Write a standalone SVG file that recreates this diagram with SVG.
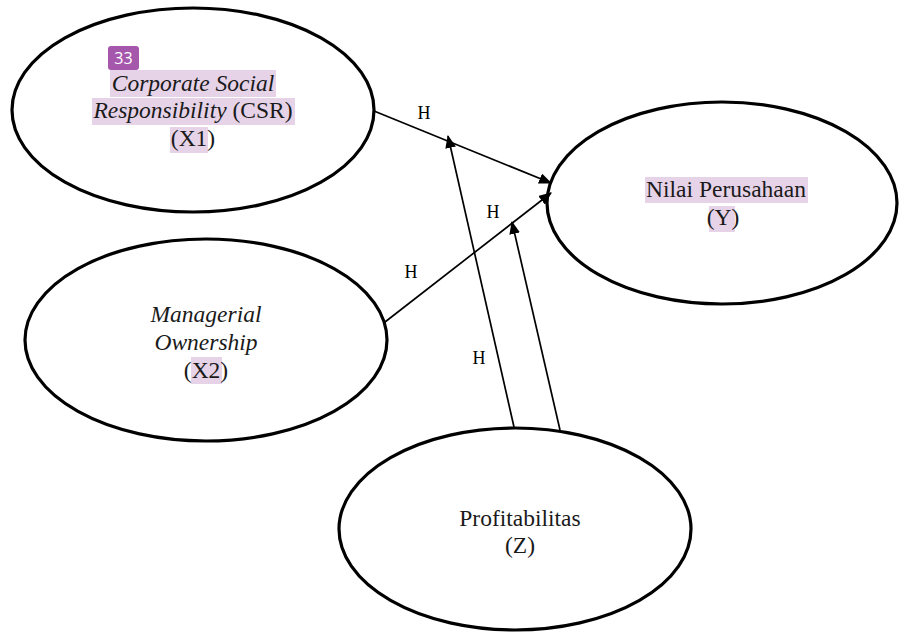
<svg xmlns="http://www.w3.org/2000/svg" width="901" height="635" viewBox="0 0 901 635">
<style>
.node{fill:#fff;stroke:#000;stroke-width:3.2}
.t{font-family:'Liberation Serif','Times New Roman','DejaVu Serif',serif;font-size:23.5px;fill:#1a1a1a;text-anchor:middle}
.i{font-style:italic}
.h{font-family:'Liberation Serif','Times New Roman','DejaVu Serif',serif;font-size:18px;fill:#000;text-anchor:middle}
.hl{fill:#e6d3e8}
.edge{stroke:#000;stroke-width:1.7;fill:none;marker-end:url(#arr)}
</style>
<defs>
<marker id="arr" viewBox="0 0 12 10" refX="11" refY="5" markerWidth="13" markerHeight="11" markerUnits="userSpaceOnUse" orient="auto">
<path d="M0,0 L12,5 L0,10 z" fill="#000"/>
</marker>
</defs>
<rect width="901" height="635" fill="#fff"/>
<g id="x1">
<ellipse class="node" cx="193" cy="110" rx="181" ry="102"/>
<rect class="hl" x="110" y="70" width="166" height="27"/>
<rect class="hl" x="92" y="98" width="203" height="27"/>
<rect class="hl" x="170" y="127" width="38" height="26"/>
<rect x="108" y="46" width="31" height="24" rx="3" fill="#a557ac"/>
<text x="123.5" y="64" font-family="'Open Sans','Noto Sans',sans-serif" font-size="16" fill="#fff" text-anchor="middle">33</text>
<text class="t i" x="193" y="91">Corporate Social</text>
<text class="t" x="193" y="118"><tspan class="i">Responsibility</tspan> (CSR)</text>
<text class="t" x="193" y="146">(X1)</text>
</g>
<g id="y">
<ellipse class="node" cx="722" cy="203" rx="175" ry="101"/>
<rect class="hl" x="645" y="177" width="163" height="26"/>
<rect class="hl" x="709" y="206" width="26" height="26"/>
<text class="t" x="726" y="197">Nilai Perusahaan</text>
<text class="t" x="723" y="225">(Y)</text>
</g>
<g id="x2">
<ellipse class="node" cx="206" cy="340" rx="181" ry="101"/>
<rect class="hl" x="191" y="357" width="31" height="27"/>
<text class="t i" x="206" y="322">Managerial</text>
<text class="t i" x="206" y="350">Ownership</text>
<text class="t" x="206" y="378">(X2)</text>
</g>
<g id="z">
<ellipse class="node" cx="515" cy="529" rx="176" ry="101"/>
<text class="t" x="520" y="526">Profitabilitas</text>
<text class="t" x="520" y="553">(Z)</text>
</g>
<g id="connectors">
<line class="edge" x1="374" y1="111" x2="551" y2="183"/>
<line class="edge" x1="385" y1="322" x2="551" y2="193"/>
<line class="edge" x1="514" y1="427" x2="448" y2="136"/>
<line class="edge" x1="560" y1="430" x2="512" y2="222"/>
<text class="h" x="424" y="119">H</text>
<text class="h" x="493" y="218">H</text>
<text class="h" x="411" y="278">H</text>
<text class="h" x="479" y="364">H</text>
</g>
</svg>
